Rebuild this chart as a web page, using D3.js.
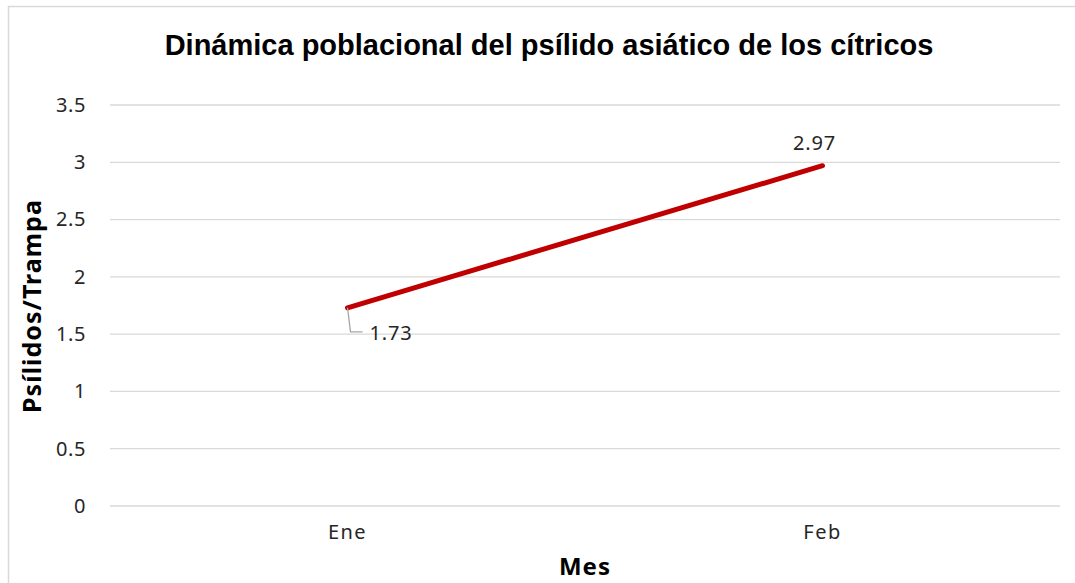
<!DOCTYPE html>
<html>
<head>
<meta charset="utf-8">
<script src="https://cdn.jsdelivr.net/npm/d3@7"></script>
<style>
  body { margin: 0; background: #fff; }
  text { font-family: "Noto Sans", "Open Sans", sans-serif; }
</style>
</head>
<body>
<div id="chart"></div>
<script>
const months = ["Ene", "Feb"];
const values = [1.73, 2.97];
const yTicks = [0, 0.5, 1, 1.5, 2, 2.5, 3, 3.5];

const w = 1075, h = 583;
const margin = {left: 110, right: 15, top: 105, bottom: 77};

const svg = d3.select("#chart").append("svg")
  .attr("width", w).attr("height", h);

// chart border
svg.append("rect")
  .attr("x", 8.5).attr("y", 6.5)
  .attr("width", w + 10).attr("height", h + 10)
  .attr("fill", "none").attr("stroke", "#d9d9d9").attr("stroke-width", 1.5);

const x = d3.scaleBand().domain(months)
  .range([margin.left, w - margin.right]);
const y = d3.scaleLinear().domain([0, 3.5])
  .range([h - margin.bottom, margin.top]);

// gridlines
svg.append("g").selectAll("line")
  .data(yTicks).enter().append("line")
  .attr("x1", margin.left).attr("x2", w - margin.right)
  .attr("y1", d => y(d)).attr("y2", d => y(d))
  .attr("stroke", "#d9d9d9").attr("stroke-width", 1.3);

// y axis
const yAxis = svg.append("g")
  .attr("transform", `translate(${margin.left - 24},0)`)
  .call(d3.axisLeft(y).tickValues(yTicks).tickSize(0).tickPadding(0).tickFormat(d => d));
yAxis.select(".domain").remove();
yAxis.selectAll("text").attr("font-size", 20).attr("fill", "#262626")
  .attr("font-family", "Noto Sans").style("letter-spacing", "0.6px");

// x axis
const xAxis = svg.append("g")
  .attr("transform", `translate(0,${h - margin.bottom + 19})`)
  .call(d3.axisBottom(x).tickSize(0).tickPadding(0));
xAxis.select(".domain").remove();
xAxis.selectAll("text").attr("font-size", 20).attr("fill", "#262626")
  .attr("font-family", "Noto Sans").style("letter-spacing", "1.5px");

// line
const line = d3.line()
  .x((d, i) => x(months[i]) + x.bandwidth() / 2)
  .y(d => y(d));
svg.append("path")
  .datum(values)
  .attr("d", line)
  .attr("fill", "none")
  .attr("stroke", "#c00000")
  .attr("stroke-width", 5)
  .attr("stroke-linecap", "round");

// data labels
const px0 = x(months[0]) + x.bandwidth() / 2;
const py0 = y(values[0]);
svg.append("path")
  .attr("d", `M${px0},${py0} L${px0 + 3},${py0 + 24} L${px0 + 15},${py0 + 24}`)
  .attr("fill", "none").attr("stroke", "#a6a6a6").attr("stroke-width", 1.3);
svg.append("text")
  .attr("x", px0 + 22).attr("y", py0 + 25)
  .attr("dy", "0.35em")
  .attr("font-size", 20).attr("fill", "#262626")
  .style("letter-spacing", "0.8px")
  .text(values[0]);

const px1 = x(months[1]) + x.bandwidth() / 2;
svg.append("text")
  .attr("x", px1 - 8).attr("y", y(values[1]) - 16)
  .attr("text-anchor", "middle")
  .attr("font-size", 20).attr("fill", "#262626")
  .style("letter-spacing", "0.8px")
  .text(values[1]);

// titles
svg.append("text")
  .attr("x", 549).attr("y", 55)
  .attr("text-anchor", "middle")
  .attr("font-weight", "bold").attr("font-size", 29).attr("fill", "#000")
  .style("font-family", "'Liberation Sans', Arial, sans-serif")
  .text("Dinámica poblacional del psílido asiático de los cítricos");

svg.append("text")
  .attr("transform", "translate(41,306) rotate(-90)")
  .attr("text-anchor", "middle")
  .attr("font-weight", "bold").attr("font-size", 25).attr("fill", "#000")
  .style("letter-spacing", "1px")
  .text("Psílidos/Trampa");

svg.append("text")
  .attr("x", 585).attr("y", 575)
  .attr("text-anchor", "middle")
  .attr("font-weight", "bold").attr("font-size", 24).attr("fill", "#000")
  .style("letter-spacing", "1px")
  .text("Mes");
</script>
</body>
</html>
